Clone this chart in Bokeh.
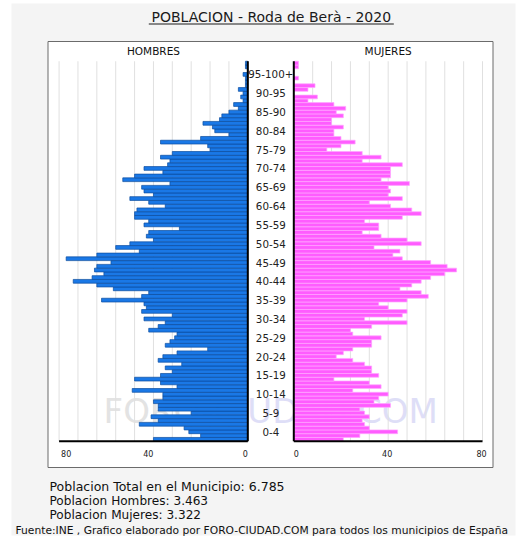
from bokeh.plotting import figure
from bokeh.models import Range1d
from bokeh.core.properties import value
from bokeh.embed import file_html
from bokeh.resources import INLINE

# ---------------- data ----------------
ages = list(range(0, 101))
hombres = [40, 20, 25, 27, 46, 38, 41, 24, 38, 38,
           40, 36, 36, 49, 30, 37, 48, 37, 32, 35,
           28, 38, 36, 30, 17, 35, 33, 31, 30, 42,
           38, 35, 44, 32, 45, 43, 44, 62, 45, 42,
           57, 64, 74, 66, 61, 65, 64, 58, 77, 64,
           46, 56, 50, 40, 43, 42, 29, 44, 42, 48,
           48, 47, 35, 42, 50, 40, 44, 45, 33, 53,
           48, 36, 44, 34, 33, 37, 32, 16, 17, 37,
           20, 8, 14, 15, 19, 12, 11, 8, 4, 6,
           2, 3, 2, 4, 1, 1, 1, 2, 0, 1, 1]
mujeres = [21, 28, 44, 32, 30, 29, 32, 30, 28, 41,
           34, 36, 40, 25, 37, 32, 17, 36, 33, 33,
           30, 25, 18, 21, 25, 33, 33, 37, 25, 24,
           33, 48, 30, 46, 48, 40, 36, 48, 57, 54,
           45, 50, 54, 58, 64, 69, 65, 58, 46, 42,
           45, 34, 54, 48, 37, 29, 36, 36, 30, 46,
           54, 50, 41, 32, 46, 40, 41, 40, 49, 37,
           41, 41, 41, 46, 29, 37, 29, 14, 20, 26,
           20, 17, 17, 21, 16, 16, 21, 18, 22, 17,
           6, 10, 0, 6, 9, 0, 2, 0, 0, 2, 2]
group_labels = ["0-4", "5-9", "10-14", "15-19", "20-24", "25-29", "30-34",
                "35-39", "40-44", "45-49", "50-54", "55-59", "60-64", "65-69",
                "70-74", "75-79", "80-84", "85-90", "90-95", "95-100+"]
group_starts = [0, 5, 10, 15, 20, 25, 30, 35, 40, 45, 50, 55, 60, 65, 70,
                75, 80, 85, 90, 95]
grid_ticks = [8, 16, 24, 32, 40, 48, 56, 64, 72, 80]
title_text = "POBLACION - Roda de Berà - 2020"
header_left = "HOMBRES"
header_right = "MUJERES"
summary_lines = ["Poblacion Total en el Municipio: 6.785",
                 "Poblacion Hombres: 3.463",
                 "Poblacion Mujeres: 3.322"]
source_line = "Fuente:INE , Grafico elaborado por FORO-CIUDAD.COM para todos los municipios de España"
watermark_parts = ["FORO-", "CIUDAD.COM"]

# ---------------- geometry (page pixels) ----------------
W, HC = 521, 536
OX, OY = 0, 0
L0, R0 = 247.3, 293.3     # zero of left / right panel
S = 2.359                  # px per person
Y0, BH = 440.7, 3.762      # bottom of age axis, px per year


def xl(px):
    return (L0 - px) / S


def xr(px):
    return (px - R0) / S


def ya(py):
    return (Y0 - py) / BH - 0.5


FONT = value("DejaVu Sans")

p = figure(width=W, height=HC,
           x_range=Range1d(xl(OX), xl(OX + W)),
           y_range=Range1d(ya(OY + HC), ya(OY)),
           output_backend="svg", toolbar_location=None,
           x_axis_type=None, y_axis_type=None, min_border=0,
           background_fill_color="white", border_fill_color="white",
           outline_line_color=None)
p.extra_x_ranges = {"right": Range1d(xr(OX), xr(OX + W))}

# grey page
p.quad(left=[xl(11)], right=[xl(515)], top=[ya(3)], bottom=[ya(535)],
       fill_color="#f4f4f4", line_color=None)

# white box
p.quad(left=[xl(47.5)], right=[xl(492.5)], top=[ya(41)], bottom=[ya(467)],
       fill_color="white", line_color="#6b6b6b", line_width=1)

# watermark
p.text(x=[xl(213)], y=[ya(410)], text=[watermark_parts[0]], text_align="right",
       text_baseline="middle", text_font=FONT, text_font_size="34px",
       text_color="#e3e3e3")
p.text(x=[xl(213)], y=[ya(410)], text=[watermark_parts[1]], text_align="left",
       text_baseline="middle", text_font=FONT, text_font_size="34px",
       text_color="#dedef7")

a_lo, a_hi = ages[0] - 0.5, ages[-1] + 0.5
n = len(grid_ticks)
for rn in ("default", "right"):
    p.segment(x0=grid_ticks, y0=[a_lo] * n, x1=grid_ticks, y1=[a_hi] * n,
              line_color="#e0e0e0", line_width=1, x_range_name=rn)

# bars
p.hbar(y=ages, left=0, right=hombres, height=1,
       fill_color="#1a78e6", line_color="#0b4c9e", line_width=0.7)
p.hbar(y=ages, left=0, right=mujeres, height=1,
       fill_color="#ff5cff", line_color="#ffa6ff", line_width=0.7,
       x_range_name="right")

# axis lines
xmax = grid_ticks[-1]
for rn in ("default", "right"):
    p.segment(x0=[0, 0], y0=[a_lo, a_lo], x1=[0, xmax], y1=[a_hi, a_lo],
              line_color="black", line_width=2, x_range_name=rn)

# tick labels
ty = ya(453)
p.text(x=[0, 40], y=[ty, ty], text=["0", "40"], text_align="right",
       text_baseline="middle", text_font=FONT, text_font_size="8px",
       text_color="#222222")
p.text(x=[80], y=[ty], text=["80"], text_align="left", x_offset=2,
       text_baseline="middle", text_font=FONT, text_font_size="8px",
       text_color="#222222")
p.text(x=[0], y=[ty], text=["0"], text_align="left",
       text_baseline="middle", text_font=FONT, text_font_size="8px",
       text_color="#222222", x_range_name="right")
p.text(x=[40, 80], y=[ty, ty], text=["40", "80"], text_align="center",
       text_baseline="middle", text_font=FONT, text_font_size="8px",
       text_color="#222222", x_range_name="right", x_offset=-1)

# age group labels
mid_x = xl((L0 + R0) / 2)
p.text(x=[mid_x] * len(group_labels), y=[a + 2 for a in group_starts],
       text=group_labels, text_align="center", text_baseline="middle",
       text_font=FONT, text_font_size="10.3px", text_color="#222222")

# headers
p.text(x=[xmax / 2], y=[ya(50)], text=[header_left], text_align="center",
       text_baseline="middle", text_font=FONT, text_font_size="10.5px",
       text_color="#111111")
p.text(x=[xmax / 2], y=[ya(50)], text=[header_right], text_align="center",
       text_baseline="middle", text_font=FONT, text_font_size="10.5px",
       text_color="#111111", x_range_name="right")

# title
p.text(x=[xl(270.8)], y=[ya(16.3)], text=[title_text], text_align="center",
       text_baseline="middle", text_font=FONT, text_font_size="14px",
       text_color="#1a1a1a")
p.segment(x0=[xl(148.3)], y0=[ya(23.5)], x1=[xl(393.3)], y1=[ya(23.5)],
          line_color="#1a1a1a", line_width=1)

# summary texts
p.text(x=[xl(49)], y=[ya(485.5)], text=summary_lines[:1],
       text_align="left", text_baseline="middle", text_font=FONT,
       text_font_size="12.5px", text_color="#111111")
p.text(x=[xl(49)] * 2, y=[ya(500), ya(514.2)], text=summary_lines[1:],
       text_align="left", text_baseline="middle", text_font=FONT,
       text_font_size="12.1px", text_color="#111111")
p.text(x=[xl(15)], y=[ya(530.2)], text=[source_line], text_align="left",
       text_baseline="middle", text_font=FONT, text_font_size="10.7px",
       text_color="#111111")

open("out.html", "w").write(file_html(p, INLINE))
